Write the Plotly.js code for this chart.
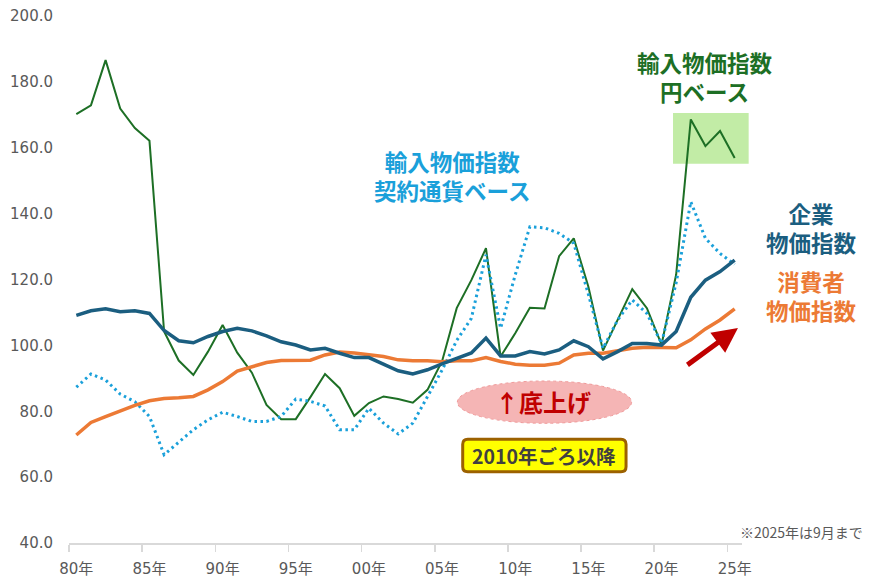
<!DOCTYPE html>
<html>
<head>
<meta charset="utf-8">
<script src="https://cdn.plot.ly/plotly-3.0.1.min.js"></script>
<style>html,body{margin:0;padding:0;background:#fff;}#chart{width:877px;height:580px;}</style>
</head>
<body>
<div id="chart"></div>
<script>
// ---- data ----
const years = [1980,1981,1982,1983,1984,1985,1986,1987,1988,1989,
               1990,1991,1992,1993,1994,1995,1996,1997,1998,1999,
               2000,2001,2002,2003,2004,2005,2006,2007,2008,2009,
               2010,2011,2012,2013,2014,2015,2016,2017,2018,2019,
               2020,2021,2022,2023,2024,2025];

const importYen = [170.2,172.9,186.6,171.9,166.0,162.1,104.2,95.4,91.0,98.1,
                   106.2,97.8,91.7,81.9,77.6,77.6,84.3,91.3,87.0,78.6,
                   82.5,84.5,83.7,82.6,86.5,95.2,111.3,119.8,129.5,96.6,
                   103.7,111.4,111.2,127.1,132.5,117.8,98.4,107.9,117.1,111.3,
                   100.2,121.5,168.6,160.5,165.1,156.9];

const importContract = [87.3,91.3,89.5,85.2,82.9,78.4,66.8,70.5,74.4,77.4,
                        79.7,78.4,76.9,76.9,78.4,83.7,83.0,81.6,74.4,74.4,
                        80.9,76.4,73.1,76.4,84.5,92.5,101.5,108.2,127.5,105.2,
                        121.4,136.0,135.7,134.0,131.0,115.5,99.1,107.7,113.8,109.7,
                        100.6,119.0,143.6,132.5,127.9,124.6];

const corporate = [109.1,110.5,111.1,110.2,110.5,109.7,104.5,101.4,100.8,102.7,
                   104.2,105.2,104.4,102.9,101.1,100.1,98.6,99.1,97.6,96.3,
                   96.3,94.4,92.3,91.3,92.6,94.4,96.1,97.7,102.2,96.8,
                   96.8,98.1,97.4,98.6,101.4,99.6,95.9,98.1,100.6,100.6,
                   100.1,104.2,114.6,119.8,122.4,125.9];

const consumer = [72.8,76.6,78.4,80.1,81.8,83.2,83.9,84.1,84.5,86.5,
                  89.0,92.2,93.6,94.8,95.4,95.4,95.5,97.1,98.0,97.7,
                  97.2,96.6,95.6,95.3,95.3,95.0,95.3,95.3,96.3,95.1,
                  94.3,94.0,94.0,94.6,97.1,97.6,97.6,98.4,99.1,99.4,
                  99.4,99.3,101.7,105.0,107.7,111.1];

const tickYears = [1980,1985,1990,1995,2000,2005,2010,2015,2020,2025];
const tickLabels = ['80年','85年','90年','95年','00年','05年','10年','15年','20年','25年'];
const yTicks = [40,60,80,100,120,140,160,180,200];

// ---- styles ----
const cGreen = '#1d6f25', cDot = '#1aa0da', cBlue = '#1b5e80', cOrange = '#ec7a35';
const cjk = '"Noto Sans CJK JP", "Noto Sans", sans-serif';

const traces = [
  {x: years, y: importYen, type: 'scatter', mode: 'lines', name: '輸入物価指数 円ベース',
   line: {color: cGreen, width: 2}},
  {x: years, y: importContract, type: 'scatter', mode: 'lines', name: '輸入物価指数 契約通貨ベース',
   line: {color: cDot, width: 3, dash: '2.5px,3.5px'}},
  {x: years, y: consumer, type: 'scatter', mode: 'lines', name: '消費者物価指数',
   line: {color: cOrange, width: 3.5}},
  {x: years, y: corporate, type: 'scatter', mode: 'lines', name: '企業物価指数',
   line: {color: cBlue, width: 3.5}}
];

function txt(text, x, y, color, size, xanchor) {
  return {text: text, xref: 'paper', yref: 'paper', x: x, y: y, showarrow: false,
          xanchor: xanchor || 'center', yanchor: 'middle', align: 'center',
          font: {family: cjk, size: size, color: color, weight: 'bold'}};
}

// rounded rectangle path in paper coords
function roundRect(x0, y0, x1, y1, rx, ry) {
  return 'M' + (x0+rx) + ',' + y0 + ' L' + (x1-rx) + ',' + y0 +
         ' Q' + x1 + ',' + y0 + ' ' + x1 + ',' + (y0+ry) +
         ' L' + x1 + ',' + (y1-ry) +
         ' Q' + x1 + ',' + y1 + ' ' + (x1-rx) + ',' + y1 +
         ' L' + (x0+rx) + ',' + y1 +
         ' Q' + x0 + ',' + y1 + ' ' + x0 + ',' + (y1-ry) +
         ' L' + x0 + ',' + (y0+ry) +
         ' Q' + x0 + ',' + y0 + ' ' + (x0+rx) + ',' + y0 + ' Z';
}

const layout = {
  width: 877, height: 580,
  margin: {l: 69, r: 135, t: 16, b: 37},
  paper_bgcolor: '#ffffff', plot_bgcolor: '#ffffff',
  showlegend: false,
  xaxis: {
    range: [1979.5, 2025.5], showgrid: false, zeroline: false,
    showline: true, linecolor: '#d9d9d9', linewidth: 1.5,
    tickmode: 'array', tickvals: tickYears, ticktext: tickLabels, ticks: '',
    ticklabelstandoff: 11,
    tickfont: {family: '"DejaVu Sans", ' + cjk, size: 15, color: '#595959'},
    minor: {tick0: 1979.5, dtick: 5, ticks: 'outside', ticklen: 7, tickcolor: '#d9d9d9', tickwidth: 1.5, showgrid: false}
  },
  yaxis: {
    range: [40, 200], showgrid: false, zeroline: false, showline: false,
    tickmode: 'array', tickvals: yTicks, tickformat: '.1f', ticks: '',
    ticklabelstandoff: 15,
    tickfont: {family: '"DejaVu Sans", sans-serif', size: 15, color: '#595959'}
  },
  shapes: [
    {type: 'rect', xref: 'paper', yref: 'paper', x0: 0.8975, x1: 1.0099, y0: 0.7197, y1: 0.8159,
     fillcolor: '#c2eca6', line: {width: 0}, layer: 'below'},
    {type: 'circle', xref: 'paper', yref: 'paper', x0: 0.577, x1: 0.836, y0: 0.2271, y1: 0.3074,
     fillcolor: '#f5b5b5', line: {color: '#f09a9a', width: 1, dash: 'dot'}, layer: 'above'},
    {type: 'path', xref: 'paper', yref: 'paper',
     path: roundRect(0.585, 0.1353, 0.8277, 0.1968, 0.0075, 0.0095),
     fillcolor: '#ffff00', line: {color: '#9c6100', width: 3}, layer: 'above'}
  ],
  annotations: [
    txt('輸入物価指数<br>円ベース', 0.945, 0.8848, cGreen, 22.5),
    txt('輸入物価指数<br>契約通貨ベース', 0.5698, 0.6967, cDot, 22.5),
    txt('企業<br>物価指数', 1.104, 0.5987, cBlue, 22.5),
    txt('消費者<br>物価指数', 1.104, 0.469, cOrange, 22.5),
    txt('↑底上げ', 0.7043, 0.2681, '#c00000', 24),
    txt('2010年ごろ以降', 0.7058, 0.166, '#404040', 19.5),
    {text: '※2025年は9月まで', xref: 'paper', yref: 'paper', x: 1.1828, y: 0.0214,
     xanchor: 'right', yanchor: 'middle', showarrow: false,
     font: {family: cjk, size: 14, color: '#595959'}},
    {text: '', xref: 'paper', yref: 'paper', x: 0.994, y: 0.408, showarrow: true,
     ax: -52, ay: 38, axref: 'pixel', ayref: 'pixel',
     arrowhead: 2, arrowsize: 1, arrowwidth: 5, arrowcolor: '#c00000', standoff: 0}
  ]
};

Plotly.newPlot('chart', traces, layout, {displayModeBar: false, staticPlot: true});
</script>
</body>
</html>
